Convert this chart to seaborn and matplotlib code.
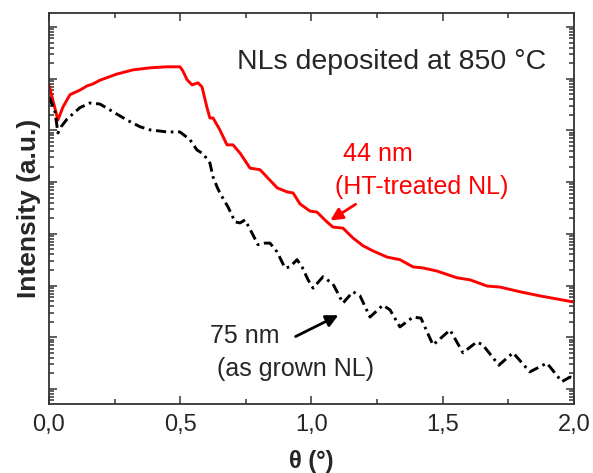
import numpy as np
import matplotlib
matplotlib.use("Agg")
import matplotlib.pyplot as plt
import matplotlib.ticker as mticker
import pandas as pd
import seaborn as sns

# XRR curves: theta (deg) and log10 of the intensity (a.u.)
theta_ht = [0.000, 0.034, 0.053, 0.080, 0.118, 0.145, 0.168, 0.194, 0.259, 0.320,
            0.385, 0.450, 0.499, 0.510, 0.526, 0.545, 0.568, 0.583, 0.602, 0.613,
            0.625, 0.651, 0.678, 0.701, 0.728, 0.766, 0.804, 0.830, 0.869, 0.907,
            0.930, 0.956, 0.994, 1.021, 1.059, 1.082, 1.120, 1.158, 1.196, 1.234,
            1.288, 1.337, 1.387, 1.425, 1.478, 1.554, 1.604, 1.669, 1.718, 1.794,
            1.870, 1.935, 2.000]
logI_ht = [5.88, 5.20, 5.45, 5.69, 5.78, 5.86, 5.90, 5.97, 6.09, 6.17,
           6.21, 6.23, 6.23, 6.15, 5.98, 5.88, 5.92, 5.84, 5.44, 5.24,
           5.24, 5.01, 4.72, 4.72, 4.56, 4.27, 4.24, 4.10, 3.89, 3.81,
           3.79, 3.58, 3.44, 3.42, 3.23, 3.13, 3.11, 2.92, 2.77, 2.67,
           2.55, 2.50, 2.36, 2.34, 2.28, 2.15, 2.11, 1.99, 1.97, 1.88,
           1.80, 1.74, 1.68]

theta_ag = [0.000, 0.023, 0.034, 0.046, 0.069, 0.118, 0.156, 0.194, 0.244, 0.297,
            0.347, 0.385, 0.450, 0.499, 0.537, 0.564, 0.587, 0.613, 0.625, 0.640,
            0.651, 0.682, 0.709, 0.728, 0.747, 0.773, 0.796, 0.823, 0.842, 0.869,
            0.899, 0.918, 0.945, 0.964, 0.987, 1.006, 1.044, 1.082, 1.120, 1.158,
            1.185, 1.223, 1.272, 1.299, 1.337, 1.387, 1.417, 1.463, 1.528, 1.577,
            1.630, 1.653, 1.714, 1.768, 1.832, 1.897, 1.954, 1.985, 2.000]
logI_ag = [5.65, 5.36, 4.95, 5.07, 5.22, 5.44, 5.53, 5.51, 5.36, 5.20,
           5.07, 5.01, 4.97, 4.97, 4.82, 4.62, 4.55, 4.37, 4.10, 3.91,
           3.79, 3.52, 3.23, 3.21, 3.27, 3.02, 2.79, 2.82, 2.82, 2.65,
           2.34, 2.36, 2.50, 2.36, 2.11, 1.95, 2.17, 2.03, 1.66, 1.88,
           1.80, 1.39, 1.62, 1.53, 1.20, 1.39, 1.37, 0.85, 1.14, 0.70,
           0.91, 0.85, 0.46, 0.70, 0.33, 0.50, 0.14, 0.23, 0.21]

xticks = [0.0, 0.5, 1.0, 1.5, 2.0]
xticklabels = ["0,0", "0,5", "1,0", "1,5", "2,0"]

ht = pd.DataFrame({"theta": theta_ht, "I": np.power(10.0, logI_ht)})
ag = pd.DataFrame({"theta": theta_ag, "I": np.power(10.0, logI_ag)})

sns.set_style("ticks")
plt.rcParams["font.family"] = ["Liberation Sans", "DejaVu Sans"]
plt.rcParams["xtick.direction"] = "in"
plt.rcParams["ytick.direction"] = "in"

fig = plt.figure(figsize=(5.93, 4.73), dpi=100)
ax = fig.add_axes([0.0826, 0.146, 0.8853, 0.8265])

sns.lineplot(data=ht, x="theta", y="I", color="#ff0000", linewidth=2.1,
             solid_joinstyle="round", ax=ax)
sns.lineplot(data=ag, x="theta", y="I", color="black", linewidth=2.1,
             linestyle=(0, (3.5, 1.6, 0.9, 1.6)), ax=ax)

ax.set_yscale("log")
ax.set_xlim(0, 2.0)
ax.set_ylim(10 ** -0.29, 10 ** 7.27)

ax.set_xticks(xticks)
ax.set_xticklabels(xticklabels)
ax.xaxis.set_minor_locator(mticker.MultipleLocator(0.25))
ax.yaxis.set_major_locator(mticker.LogLocator(base=10, numticks=20))
ax.yaxis.set_minor_locator(mticker.LogLocator(base=10, subs=np.arange(2, 10), numticks=20))
ax.yaxis.set_major_formatter(mticker.NullFormatter())
ax.yaxis.set_minor_formatter(mticker.NullFormatter())
ax.tick_params(which="both", top=True, right=True, color="#333333", width=1.1)
ax.tick_params(which="major", length=6, labelsize=17, pad=7)
ax.tick_params(which="minor", length=3.5)
for s in ax.spines.values():
    s.set_linewidth(1.3)
    s.set_color("#333333")

ax.set_xlabel("θ (°)", fontsize=17, fontweight="bold", labelpad=10)
ax.set_ylabel("Intensity (a.u.)", fontsize=19, fontweight="bold", labelpad=-1)

ax.text(0.716, 10 ** 6.33, "NLs deposited at 850 °C", fontsize=20.5, ha="left", va="center")
ax.text(1.12, 10 ** 4.55, "44 nm", fontsize=18, color="#ff0000", ha="left", va="center")
ax.text(1.09, 10 ** 3.91, "(HT-treated NL)", fontsize=18, color="#ff0000", ha="left", va="center")
ax.text(0.613, 10 ** 1.03, "75 nm", fontsize=18, ha="left", va="center")
ax.text(0.64, 10 ** 0.39, "(as grown NL)", fontsize=18, ha="left", va="center")

ax.annotate("", xy=(1.063, 10 ** 3.23), xytext=(1.177, 10 ** 3.60),
            arrowprops=dict(arrowstyle="-|>", color="#ff0000", lw=2, mutation_scale=18))
ax.annotate("", xy=(1.112, 10 ** 1.45), xytext=(0.93, 10 ** 0.99),
            arrowprops=dict(arrowstyle="-|>", color="black", lw=2, mutation_scale=18))

fig.savefig("out.png", dpi=100)
